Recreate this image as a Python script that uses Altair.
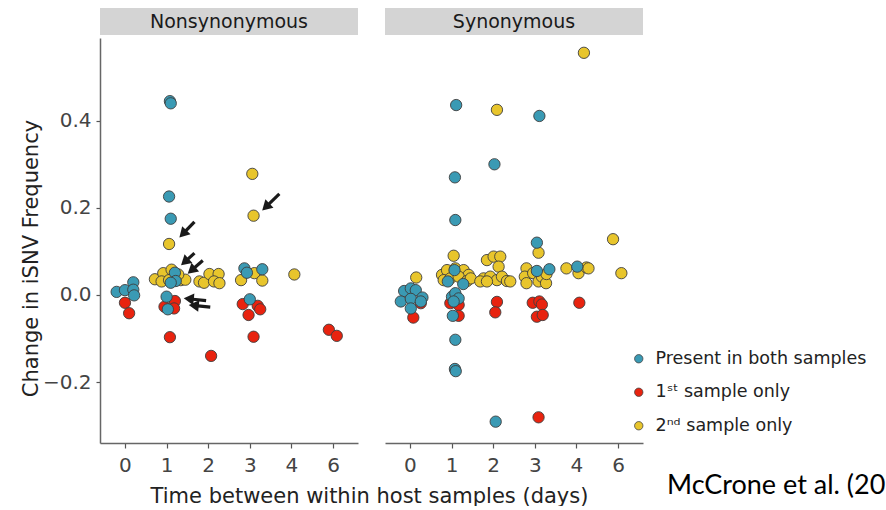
import math
import json
import altair as alt
import pandas as pd

# ---------------- data ----------------
day_labels = ["0", "1", "2", "3", "4", "6"]          # category positions 0..5
categories = ["Present in both samples", "1\u02e2\u1d57 sample only", "2\u207f\u1d48 sample only"]
cat_colors = ["#3a9ab4", "#e8230f", "#e8c52c"]
panels = ["Nonsynonymous", "Synonymous"]

# Nonsynonymous panel (x = category position incl. jitter, y = change in frequency)
non_both_x = [1.08, 1.10, 1.06, 1.10, -0.20, 0.00, 0.20, 0.20, 0.22, 1.20, 1.22, 1.10, 1.00, 1.03, 2.87, 2.93, 3.30, 3.00]
non_both_y = [0.445, 0.440, 0.226, 0.175, 0.007, 0.011, 0.029, 0.012, -0.001, 0.051, 0.032, 0.028, -0.004, -0.033, 0.061, 0.051, 0.059, -0.010]
non_first_x = [0.00, 0.10, 1.20, 0.95, 1.18, 1.08, 2.07, 2.83, 3.19, 3.25, 2.97, 3.09, 4.90, 5.09]
non_first_y = [-0.018, -0.042, -0.014, -0.027, -0.031, -0.097, -0.140, -0.021, -0.025, -0.033, -0.046, -0.096, -0.080, -0.094]
non_second_x = [1.06, 3.06, 3.09, 0.72, 0.92, 1.12, 0.88, 1.06, 1.34, 1.45, 1.28, 1.79, 1.90, 2.03, 2.25, 2.14, 2.27, 2.79, 3.11, 3.30, 4.07]
non_second_y = [0.117, 0.278, 0.182, 0.036, 0.050, 0.058, 0.031, 0.034, 0.034, 0.035, 0.047, 0.031, 0.028, 0.048, 0.048, 0.031, 0.027, 0.034, 0.050, 0.033, 0.047]

# Synonymous panel
syn_both_x = [1.11, 2.03, 3.11, 1.08, 1.09, 3.05, 1.09, 1.08, 1.10, 2.06, -0.14, 0.02, 0.14, -0.22, 0.02, 0.30, 0.02, 0.26,
              1.07, 0.91, 1.28, 1.01, 1.09, 1.17, 1.05, 1.03, 3.05, 3.35, 4.02]
syn_both_y = [0.436, 0.300, 0.411, 0.270, 0.172, 0.120, -0.103, -0.170, -0.175, -0.291, 0.009, 0.015, 0.011, -0.015, -0.009, -0.006, -0.031, -0.015,
              0.057, 0.031, 0.025, -0.004, 0.004, -0.008, -0.015, -0.048, 0.055, 0.059, 0.065]
syn_first_x = [3.09, 0.26, 0.08, 0.97, 1.17, 1.17, 2.09, 2.05, 2.95, 3.11, 3.17, 3.05, 3.19, 4.07]
syn_first_y = [-0.281, -0.019, -0.052, -0.019, -0.023, -0.048, -0.016, -0.040, -0.018, -0.015, -0.022, -0.050, -0.046, -0.018]
syn_second_x = [4.18, 2.09, 4.88, 3.09, 1.05, 5.08, 0.15,
                0.77, 0.89, 1.09, 1.29, 1.41, 0.81, 0.97, 1.17, 1.37, 1.46,
                1.85, 2.01, 2.17, 2.13, 1.77, 1.93, 2.09, 2.21, 2.33, 1.69, 1.85, 2.41,
                2.80, 2.76, 2.80, 2.96, 3.09, 3.17, 3.27, 3.28,
                3.76, 4.05, 4.24, 4.29]
syn_second_y = [0.556, 0.425, 0.128, 0.097, 0.090, 0.050, 0.040,
                0.046, 0.057, 0.061, 0.057, 0.046, 0.034, 0.038, 0.042, 0.032, 0.038,
                0.080, 0.088, 0.088, 0.065, 0.038, 0.042, 0.034, 0.042, 0.032, 0.031, 0.031, 0.031,
                0.061, 0.042, 0.027, 0.050, 0.031, 0.042, 0.027, 0.048,
                0.061, 0.050, 0.063, 0.061]

# annotation arrows in the Nonsynonymous panel (tail -> tip, data coordinates)
arrow_tail_x = [1.67, 3.71, 1.67, 1.87, 1.95, 2.05]
arrow_tail_y = [0.168, 0.232, 0.096, 0.079, -0.013, -0.028]
arrow_tip_x = [1.32, 3.31, 1.36, 1.52, 1.43, 1.55]
arrow_tip_y = [0.133, 0.195, 0.069, 0.050, -0.008, -0.023]

citation = "McCrone et al. (2018)"

# ---------------- layout ----------------
W, H = 258, 405
X_DOM = [-0.6, 5.6]
Y_DOM = [-0.34, 0.59]
FONT = "DejaVu Sans"


def frame(xs_list, ys_list):
    rows = []
    # draw order: 2nd only, 1st only, present in both (on top)
    for ci in [2, 1, 0]:
        for xv, yv in zip(xs_list[ci], ys_list[ci]):
            rows.append({"x": xv, "y": yv, "cat": categories[ci]})
    return pd.DataFrame(rows)


non_df = frame([non_both_x, non_first_x, non_second_x], [non_both_y, non_first_y, non_second_y])
syn_df = frame([syn_both_x, syn_first_x, syn_second_x], [syn_both_y, syn_first_y, syn_second_y])

# arrows
kx = W / (X_DOM[1] - X_DOM[0])
ky = H / (Y_DOM[1] - Y_DOM[0])
HEAD = 6.0
arr_rows = []
for tx, ty, px, py in zip(arrow_tail_x, arrow_tail_y, arrow_tip_x, arrow_tip_y):
    dxp = (px - tx) * kx
    dyp = -(py - ty) * ky
    L = math.hypot(dxp, dyp)
    ux, uy = dxp / L, dyp / L
    cx = px - HEAD * ux / kx
    cy = py + HEAD * uy / ky
    ang = math.degrees(math.atan2(dxp, -dyp)) % 360
    arr_rows.append({"x": tx, "y": ty, "x2": cx, "y2": cy, "angle": ang})
arr_df = pd.DataFrame(arr_rows)

label_expr = "%s[datum.value]" % json.dumps(day_labels)

xscale = alt.Scale(domain=X_DOM, nice=False, zero=False)
yscale = alt.Scale(domain=Y_DOM, nice=False, zero=False)

axis_style = dict(labelFont=FONT, labelFontSize=20, labelColor="#444444",
                  titleFont=FONT, titleFontSize=21, titleFontWeight="normal", titleColor="#222222",
                  domainColor="#666666", domainWidth=1.5, tickColor="#555555", tickWidth=1.2, grid=False)

color_enc = alt.Color(
    "cat:N",
    scale=alt.Scale(domain=categories, range=cat_colors),
    sort=categories,
    legend=alt.Legend(title=None, orient="none", legendX=530, legendY=312,
                      labelFont=FONT, labelFontSize=17.5, labelColor="#222222", labelLimit=400,
                      symbolType="circle", symbolSize=70, symbolStrokeColor="#444444",
                      symbolStrokeWidth=0.8, rowPadding=14.5, labelOffset=8),
)


def points(df, show_y, show_title):
    xaxis = alt.Axis(values=[0, 1, 2, 3, 4, 5], labelExpr=label_expr, tickSize=5, labelPadding=7,
                     title="Time between within host samples (days)" if show_title else None,
                     titleX=269, titleY=59, titleAlign="center", titleBaseline="alphabetic",
                     **axis_style)
    if show_y:
        yenc = alt.Y("y:Q", scale=yscale,
                     axis=alt.Axis(values=[-0.2, 0, 0.2, 0.4], format=".1f", tickSize=4, labelPadding=5,
                                   title="Change in iSNV Frequency", titleX=-69, titleY=220,
                                   titleAngle=-90, titleAlign="center", titleBaseline="middle",
                                   **axis_style))
    else:
        yenc = alt.Y("y:Q", scale=yscale, axis=None)
    return alt.Chart(df).mark_circle(size=128, opacity=1, stroke="#3d3d3d", strokeWidth=0.9).encode(
        x=alt.X("x:Q", scale=xscale, axis=xaxis),
        y=yenc,
        color=color_enc,
    )


def header(name):
    hdf = pd.DataFrame({"t": [name]})
    rect = alt.Chart(hdf).mark_rect(color="#d4d4d4").encode(
        x=alt.value(0), x2=alt.value(W), y=alt.value(-30), y2=alt.value(-3))
    txt = alt.Chart(hdf).mark_text(font=FONT, fontSize=19, color="#1a1a1a", baseline="middle", align="center").encode(
        x=alt.value(W / 2), y=alt.value(-16.5), text="t:N")
    return rect + txt


arrow_lines = alt.Chart(arr_df).mark_rule(strokeWidth=3.2, color="#1a1a1a").encode(
    x=alt.X("x:Q", scale=xscale), y=alt.Y("y:Q", scale=yscale),
    x2="x2:Q", y2="y2:Q")
arrow_heads = alt.Chart(arr_df).mark_point(shape="triangle", filled=True, size=135, opacity=1, color="#1a1a1a").encode(
    x=alt.X("x2:Q", scale=xscale), y=alt.Y("y2:Q", scale=yscale),
    angle=alt.Angle("angle:Q", scale=None))

cite = alt.Chart(pd.DataFrame({"t": [citation]})).mark_text(
    font="Lato", fontSize=27, color="#000000", align="left", baseline="alphabetic",
    limit=219, ellipsis="\u200b").encode(x=alt.value(282), y=alt.value(456), text="t:N")

left = alt.layer(header(panels[0]), points(non_df, True, True), arrow_lines, arrow_heads).properties(width=W, height=H)
right = alt.layer(header(panels[1]), points(syn_df, False, False), cite).properties(width=W, height=H)

chart = alt.hconcat(left, right, spacing=27, bounds="flush").resolve_scale(color="shared").resolve_legend(color="shared").properties(
    padding={"left": 20, "top": 8, "right": 0, "bottom": 0},
    background="white",
).configure_view(stroke=None)

chart.save("out.html", embed_options={"renderer": "svg", "actions": False})
